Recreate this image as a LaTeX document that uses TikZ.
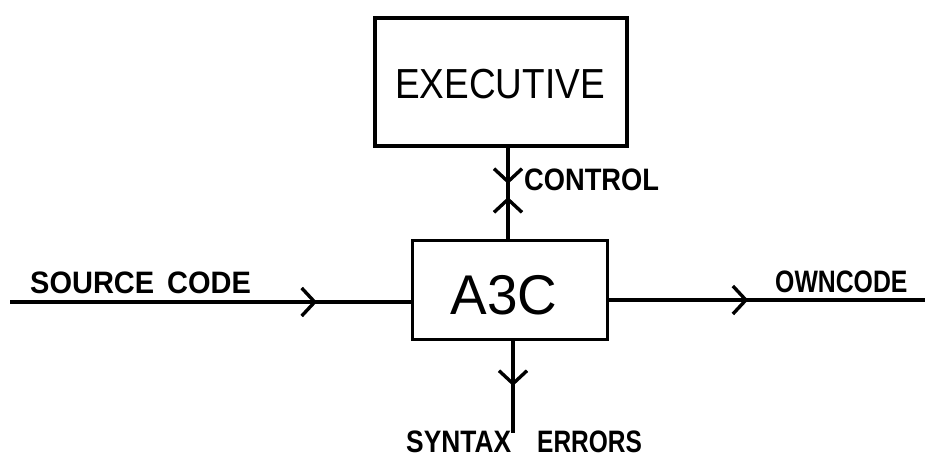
\documentclass[tikz,border=0pt]{standalone}
\usepackage{fontspec}
\usepackage{graphicx}
\setmainfont{Liberation Sans}
\usetikzlibrary{arrows.meta,decorations.markings}
\tikzset{
  box/.style={draw, line width=3.4pt, inner sep=0pt},
  wire/.style={line width=3.4pt},
  barb/.tip={Straight Barb[length=13pt,width=28pt,line width=3.4pt]},
  lbl/.style={inner sep=0pt, anchor=base west, font=\bfseries\fontsize{31}{34}\selectfont},
  midarrow/.style={postaction={decorate,decoration={markings,mark=at position #1 with {\arrow{barb}}}}},
  midarrowrev/.style={postaction={decorate,decoration={markings,mark=at position #1 with {\arrowreversed{barb}}}}}
}
\begin{document}
\begin{tikzpicture}[x=1pt,y=-1pt]
\useasboundingbox (0,0) rectangle (925,458);
\node[box, minimum width=252pt, minimum height=128pt] (exec) at (501,82) {};
\node[inner sep=0pt, anchor=base, font=\fontsize{42}{46}\selectfont] (exectext) at (500,98) {\scalebox{0.88}[1]{EXECUTIVE}};
\node[box, minimum width=195pt, minimum height=99pt] (a3c) at (510,290) {};
\node[inner sep=0pt, anchor=base, font=\fontsize{56}{60}\selectfont] (a3ctext) at (504,314) {\scalebox{0.98}[1]{A3C}};
\coordinate (src) at (10,302);
\coordinate (own) at (925,300);
\coordinate (ctop) at (508,147);
\coordinate (cbot) at (508,240);
\coordinate (stop) at (513,340);
\coordinate (send) at (513,433);
\draw[wire, midarrow=307pt] (src) -- (src -| a3c.west);
\draw[wire, midarrow=139pt] (own -| a3c.east) -- (own);
\draw[wire, midarrow=37pt, midarrowrev=50pt] (ctop) -- (cbot);
\draw[wire, midarrow=46pt] (stop) -- (send);
\node[lbl] (lsrc) at (30,293) {\scalebox{0.935}[1]{SOURCE\hspace{0.45em}CODE}};
\node[lbl] (lctl) at (524,190) {\scalebox{0.88}[1]{CONTROL}};
\node[lbl] (lown) at (775,292) {\scalebox{0.8}[1]{OWNCODE}};
\node[lbl] (lsyn) at (406,452) {\scalebox{0.85}[1]{SYNTAX}};
\node[lbl] (lerr) at (537,452) {\scalebox{0.79}[1]{ERRORS}};
\end{tikzpicture}
\end{document}
